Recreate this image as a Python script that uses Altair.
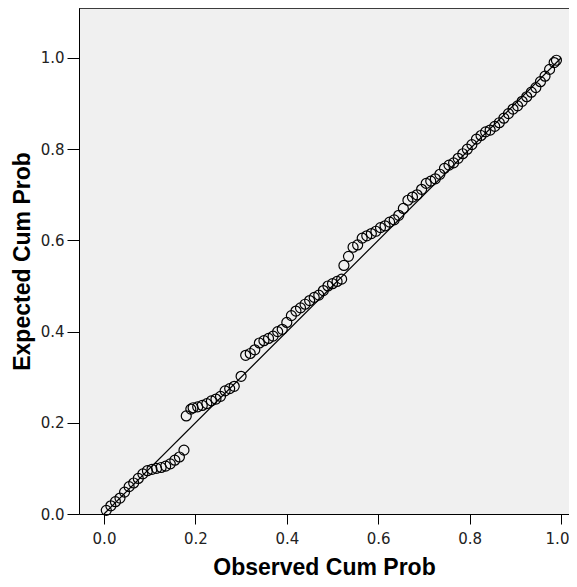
import altair as alt
import pandas as pd

observed = [0.005,0.015,0.025,0.035,0.045,0.055,0.065,0.075,0.085,0.095,
            0.105,0.115,0.125,0.135,0.145,0.155,0.165,0.175,0.18,0.19,
            0.195,0.205,0.215,0.225,0.235,0.245,0.255,0.265,0.275,0.285,
            0.30,0.31,0.32,0.33,0.34,0.35,0.36,0.37,0.38,0.39,
            0.40,0.41,0.42,0.43,0.44,0.45,0.46,0.47,0.48,0.49,
            0.50,0.51,0.52,0.525,0.535,0.545,0.555,0.565,0.575,0.585,
            0.595,0.605,0.615,0.625,0.635,0.645,0.655,0.665,0.675,0.685,
            0.695,0.705,0.715,0.725,0.735,0.745,0.755,0.765,0.775,0.785,
            0.795,0.805,0.815,0.825,0.835,0.845,0.855,0.865,0.875,0.885,
            0.895,0.905,0.915,0.925,0.935,0.945,0.955,0.965,0.975,0.985,
            0.99]
expected = [0.008,0.018,0.027,0.035,0.048,0.060,0.068,0.078,0.088,0.095,
            0.098,0.100,0.102,0.105,0.110,0.118,0.125,0.140,0.215,0.230,
            0.233,0.235,0.238,0.242,0.248,0.252,0.258,0.270,0.275,0.280,
            0.302,0.348,0.352,0.360,0.375,0.380,0.385,0.390,0.400,0.405,
            0.420,0.435,0.445,0.452,0.460,0.468,0.475,0.480,0.490,0.500,
            0.505,0.510,0.515,0.545,0.565,0.585,0.590,0.605,0.610,0.615,
            0.620,0.628,0.632,0.640,0.645,0.655,0.670,0.688,0.695,0.700,
            0.712,0.725,0.730,0.735,0.745,0.758,0.765,0.770,0.780,0.790,
            0.800,0.810,0.822,0.830,0.838,0.842,0.850,0.858,0.868,0.878,
            0.888,0.895,0.905,0.915,0.925,0.935,0.948,0.960,0.975,0.990,
            0.995]
ref_x = [0.0, 1.0]
ref_y = [0.0, 1.0]
ticks = [0.0, 0.2, 0.4, 0.6, 0.8, 1.0]

pts = pd.DataFrame({"obs": observed, "exp": expected})
ref = pd.DataFrame({"obs": ref_x, "exp": ref_y})

W, H = 490, 506
xs = alt.Scale(domain=[-0.0547, 1.0175], nice=False, zero=False)
ys = alt.Scale(domain=[0.0, 1.1096], nice=False, zero=False)

common = dict(values=ticks, format=".1f", grid=False,
              labelFontSize=15, labelColor="#222", labelFont="DejaVu Sans",
              titleFontSize=23, titleFontWeight="bold", titleFont="Liberation Sans",
              titleColor="black", domainColor="black", tickColor="black")
xaxis = alt.Axis(title="Observed Cum Prob", tickSize=10, labelPadding=7,
                 titlePadding=10,
                 labelOffset={"condition": {"test": "datum.value >= 0.99", "value": -4},
                              "value": 0},
                 **common)
yaxis = alt.Axis(title="Expected Cum Prob", tickSize=12, labelPadding=3,
                 titlePadding=6, **common)

line = alt.Chart(ref).mark_line(color="black", strokeWidth=1.2).encode(
    x=alt.X("obs:Q", scale=xs, axis=xaxis),
    y=alt.Y("exp:Q", scale=ys, axis=yaxis),
)
points = alt.Chart(pts).mark_point(shape="circle", filled=False, color="black",
                                   strokeWidth=1.2, size=100, opacity=1).encode(
    x=alt.X("obs:Q", scale=xs),
    y=alt.Y("exp:Q", scale=ys),
)
top = alt.Chart(ref).mark_rule(color="black", strokeWidth=1).encode(
    x=alt.value(0), x2=alt.value(W), y=alt.value(0)
)

chart = alt.layer(line, points, top).properties(
    width=W, height=H,
    autosize=alt.AutoSizeParams(type="none"),
    padding={"left": 71, "top": 0, "right": 0, "bottom": 65},
).configure_view(fill="#f0f0f0", stroke=None)

chart.save("out.html", embed_options={"renderer": "svg", "actions": False})
